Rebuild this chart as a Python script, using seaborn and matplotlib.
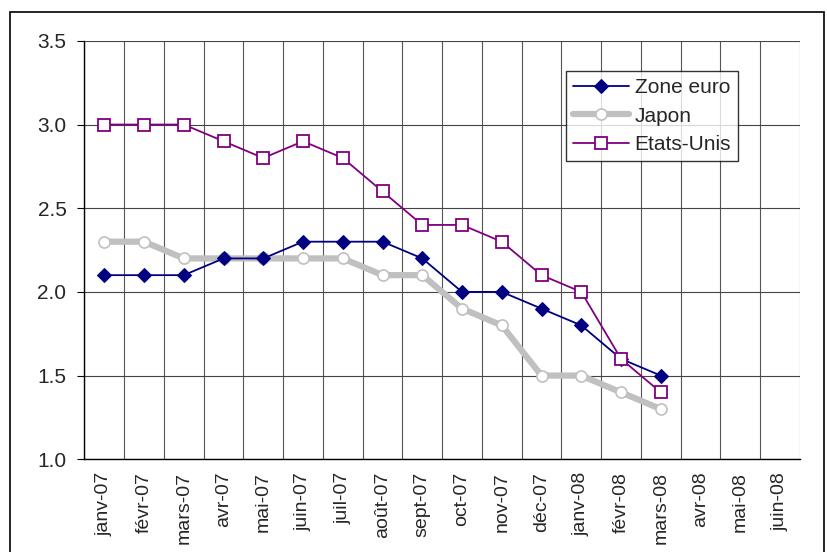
import seaborn as sns
import pandas as pd
import matplotlib.pyplot as plt
from matplotlib.patches import Rectangle

months = ['janv-07', 'févr-07', 'mars-07', 'avr-07', 'mai-07', 'juin-07',
          'juil-07', 'août-07', 'sept-07', 'oct-07', 'nov-07', 'déc-07',
          'janv-08', 'févr-08', 'mars-08', 'avr-08', 'mai-08', 'juin-08']
zone_euro = [2.1, 2.1, 2.1, 2.2, 2.2, 2.3, 2.3, 2.3, 2.2, 2.0, 2.0, 1.9, 1.8, 1.6, 1.5]
japon = [2.3, 2.3, 2.2, 2.2, 2.2, 2.2, 2.2, 2.1, 2.1, 1.9, 1.8, 1.5, 1.5, 1.4, 1.3]
etats_unis = [3.0, 3.0, 3.0, 2.9, 2.8, 2.9, 2.8, 2.6, 2.4, 2.4, 2.3, 2.1, 2.0, 1.6, 1.4]

sns.set_style('white')
plt.rcParams['font.family'] = ['Liberation Sans', 'DejaVu Sans']

n = len(zone_euro)
df = pd.DataFrame({'x': list(range(n)), 'Zone euro': zone_euro,
                   'Japon': japon, 'Etats-Unis': etats_unis})

fig = plt.figure(figsize=(8.28, 5.52), dpi=100)
fig.patches.append(Rectangle((10 / 828, -0.01), 814 / 828, 1 - 12 / 552 + 0.01,
                             transform=fig.transFigure, fill=False,
                             edgecolor='black', linewidth=1.2))
ax = fig.add_axes([0.102, 0.168, 0.864, 0.758])

sns.lineplot(data=df, x='x', y='Japon', ax=ax, color='#c0c0c0', linewidth=4.5,
             marker='o', markersize=8, markerfacecolor='white',
             markeredgecolor='#c0c0c0', markeredgewidth=1.2, label='Japon',
             zorder=3)
sns.lineplot(data=df, x='x', y='Zone euro', ax=ax, color='#000080', linewidth=1.3,
             marker='D', markersize=7, markeredgecolor='#000080', label='Zone euro',
             zorder=4)
sns.lineplot(data=df, x='x', y='Etats-Unis', ax=ax, color='#800080', linewidth=1.3,
             marker='s', markersize=9, markerfacecolor='white',
             markeredgecolor='#800080', markeredgewidth=1.3, label='Etats-Unis',
             zorder=5)

ax.set_xlim(-0.5, len(months) - 0.5)
ax.set_ylim(1.0, 3.5)
ax.set_xticks(range(len(months)))
ax.set_xticklabels(months, rotation=90, fontsize=14)
ax.set_xticks([i - 0.5 for i in range(len(months) + 1)], minor=True)
ax.tick_params(axis='x', which='major', length=0, pad=9)
ax.tick_params(axis='x', which='minor', length=5, color='black', direction='out')
ax.set_yticks([1.0, 1.5, 2.0, 2.5, 3.0, 3.5])
ax.set_yticklabels(['1.0', '1.5', '2.0', '2.5', '3.0', '3.5'], fontsize=15)
ax.tick_params(axis='y', length=5, color='black', direction='out', left=True, pad=8)
ax.grid(axis='x', which='minor', color='#555555', linewidth=0.8)
ax.grid(axis='y', which='major', color='#444444', linewidth=0.8)
ax.set_xlabel('')
ax.set_ylabel('')
for s in ['top', 'right']:
    ax.spines[s].set_visible(False)
for s in ['left', 'bottom']:
    ax.spines[s].set_color('black')
    ax.spines[s].set_linewidth(1)

handles, labels = ax.get_legend_handles_labels()
order = [labels.index('Zone euro'), labels.index('Japon'), labels.index('Etats-Unis')]
leg = ax.legend([handles[i] for i in order], [labels[i] for i in order],
                loc='upper left', bbox_to_anchor=(0.673, 0.928), fontsize=15,
                frameon=True, fancybox=False, edgecolor='black',
                borderpad=0.35, labelspacing=0.45, handlelength=2.7,
                handletextpad=0.25, borderaxespad=0)
leg.get_frame().set_linewidth(1)

fig.savefig('out.png', dpi=100)
